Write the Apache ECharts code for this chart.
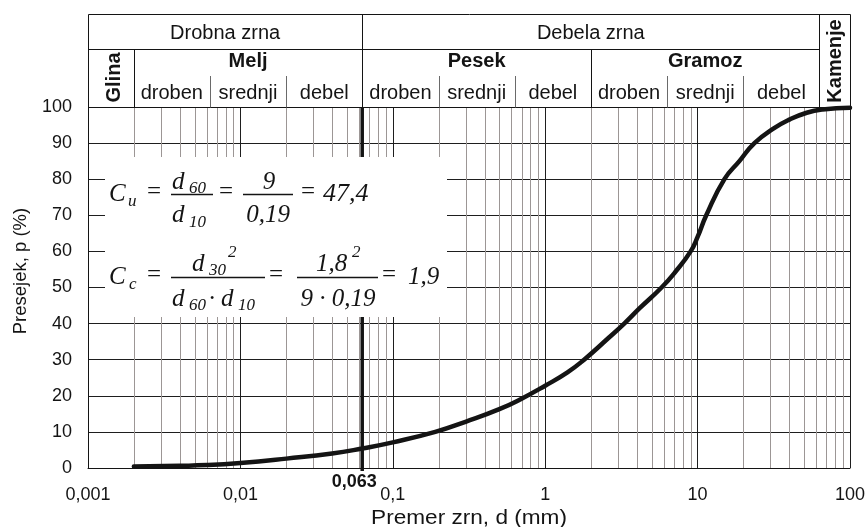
<!DOCTYPE html>
<html><head><meta charset="utf-8">
<script src="https://cdn.jsdelivr.net/npm/echarts@6/dist/echarts.min.js"></script>
<style>html,body{margin:0;padding:0;background:#fff}#c{width:868px;height:527px}</style>
</head><body><div id="c"></div>
<script>
// ---------- data ----------
const xTickLabels = ['0,001', '0,01', '0,1', '1', '10', '100'];
const yTickValues = [0, 10, 20, 30, 40, 50, 60, 70, 80, 90, 100];
const decadeStarts = [0.001, 0.01, 0.1, 1, 10];
const minorSteps = [2, 3, 4, 5, 6, 7, 8, 9];
const siltSandLimit = 0.063;

// grain size distribution curve (d in mm, passing %)
const grainSize = [0.002, 0.004, 0.006, 0.01, 0.02, 0.04, 0.063, 0.1, 0.19, 0.3, 0.5, 0.7, 1.0, 1.4, 1.8, 2.6, 3.3, 4.2, 5.8, 7.2, 9, 10, 11.4, 15, 18.8, 23.6, 31.4, 40, 52, 66, 100];
const passing   = [0.4, 0.6, 0.8, 1.4, 2.6, 4.0, 5.4, 7.1, 10, 12.8, 16.3, 19.2, 22.8, 26.5, 30, 36, 40, 44.4, 50, 54.5, 60, 64, 70, 80, 85, 90, 94, 96.5, 98.4, 99.3, 99.8];

// classification header
const mainGroups = [['Drobna zrna', 0.001, 0.063], ['Debela zrna', 0.063, 63]];
const soilClasses = [['Glina', 0.001, 0.002], ['Melj', 0.002, 0.063], ['Pesek', 0.063, 2], ['Gramoz', 2, 63], ['Kamenje', 63, 100]];
const subNames = ['droben', 'srednji', 'debel'];
const subBounds = [[0.002, 0.0063, 0.02, 0.063], [0.063, 0.2, 0.63, 2], [2, 6.3, 20, 63]];

const xName = 'Premer zrn, d (mm)';
const yName = 'Presejek, p (%)';

// ---------- chart ----------
const minorValues = [];
decadeStarts.forEach(d => minorSteps.forEach(s => minorValues.push(+(d * s).toPrecision(6))));
const curve = grainSize.map((d, i) => [d, passing[i]]);
const SANS = '"Liberation Sans", Arial, sans-serif';
const SERIF = '"Liberation Serif", "Times New Roman", serif';
const INK = '#141414';

function vLine(color, width, below) {
  return (params, api) => {
    const v = api.value(0);
    const p0 = api.coord([v, 0]), p1 = api.coord([v, 100]);
    const x = width % 2 === 1 ? Math.round(p0[0]) + 0.5 : p0[0];
    return {type: 'line', silent: true,
      shape: {x1: x, y1: p0[1] + below, x2: x, y2: p1[1]},
      style: {stroke: color, lineWidth: width}};
  };
}

const chart = echarts.init(document.getElementById('c'), null, {renderer: 'canvas'});
chart.setOption({
  animation: false,
  backgroundColor: '#fff',
  grid: {left: 88, right: 18, top: 107, bottom: 59, outerBoundsMode: 'none'},
  xAxis: {
    type: 'log', logBase: 10, min: 0.001, max: 100,
    axisLine: {show: true, lineStyle: {color: INK, width: 1}},
    axisTick: {show: false},
    axisLabel: {
      formatter: v => xTickLabels[Math.round(Math.log10(v)) + 3],
      fontFamily: SANS, fontSize: 18, color: INK, margin: 18
    },
    splitLine: {show: true, lineStyle: {color: '#1e1e1e', width: 1}}
  },
  yAxis: {
    type: 'value', min: 0, max: 100, interval: 10,
    axisLine: {show: true, lineStyle: {color: INK, width: 1}},
    axisTick: {show: false},
    axisLabel: {fontFamily: SANS, fontSize: 18, color: INK, margin: 16,
      formatter: v => String(v)},
    splitLine: {show: true, lineStyle: {color: '#1e1e1e', width: 1}}
  },
  series: [
    {
      type: 'custom', z: 1, silent: true, clip: false,
      renderItem: vLine('#9c9695', 1, 0),
      data: minorValues.map(v => [v, 0])
    },
    {
      type: 'custom', z: 1, silent: true, clip: false,
      renderItem: vLine(INK, 3.5, 3),
      data: [[siltSandLimit, 0]]
    },
    {
      type: 'line', data: curve, z: 5, silent: true,
      showSymbol: false, smooth: 0.5,
      lineStyle: {color: INK, width: 4.5, cap: 'round', join: 'round'}
    }
  ]
});

// ---------- header + annotations ----------
const px = v => chart.convertToPixel({xAxisIndex: 0}, v);
const py = v => chart.convertToPixel({yAxisIndex: 0}, v);
const g = [];
const crisp = v => Math.round(v) + 0.5;
function line(x1, y1, x2, y2, color, w, z) {
  g.push({type: 'line', z: z || 60, silent: true,
    shape: {x1, y1, x2, y2}, style: {stroke: color || INK, lineWidth: w || 1}});
}
function text(str, x, y, o) {
  o = o || {};
  g.push({type: 'text', z: 61, silent: true, x, y, rotation: o.rot || 0,
    scaleX: o.sx || 1, scaleY: o.sy || 1,
    style: {text: str, fill: INK, align: o.align || 'center', verticalAlign: 'middle',
      fontFamily: o.family || SANS, fontSize: o.size || 20,
      fontWeight: o.weight || 'normal', fontStyle: o.style || 'normal'}});
}

const hTop = 14.5, hRow1 = 49.5, hRow3 = 76, hBot = crisp(py(100));
const L = crisp(px(0.001)), R = crisp(px(100));
line(L, hTop, R, hTop);
line(L, hTop, L, hBot);
line(R, hTop, R, hBot);
line(L, hRow1, crisp(px(63)), hRow1);
line(L, hBot, R, hBot);
mainGroups.forEach(([name, a, b]) => {
  line(crisp(px(b)), hTop, crisp(px(b)), hBot);
  text(name, (px(a) + px(b)) / 2, 33, {size: 20});
});
soilClasses.forEach(([name, a, b], i) => {
  const xa = px(a), xb = px(b);
  line(crisp(xb), hRow1, crisp(xb), hBot);
  if (i === 0) text(name, (xa + xb) / 2 + 4, 77.5, {size: 20, weight: 'bold', rot: Math.PI / 2});
  else if (i === soilClasses.length - 1) text(name, (xa + xb) / 2 + 1, 61, {size: 20, weight: 'bold', rot: Math.PI / 2});
  else text(name, (xa + xb) / 2, 61, {size: 20, weight: 'bold'});
});
subBounds.forEach(bs => {
  for (let k = 0; k < 3; k++) {
    if (k > 0) line(crisp(px(bs[k])), hRow3, crisp(px(bs[k])), hBot, '#6a6a6a');
    text(subNames[k], (px(bs[k]) + px(bs[k + 1])) / 2, 93, {size: 20});
  }
});

text('0,063', px(siltSandLimit) - 8, 482, {size: 18, weight: 'bold'});
text(yName, 21, 271, {size: 18.5, rot: Math.PI / 2});
text(xName, (px(0.001) + px(100)) / 2, 518, {size: 20, sx: 1.13});

// formula box (white, hides the grid behind the formulas)
g.push({type: 'rect', z: 55, silent: true, shape: {x: 105, y: 157, width: 342, height: 160}, style: {fill: '#fff'}});
const it = (s, x, y, size, align) => text(s, x, y, {family: SERIF, style: 'italic', size: size || 25, align: align || 'left'});
const up = (s, x, y, size, align) => text(s, x, y, {family: SERIF, size: size || 25, align: align || 'left'});
const bar = (x1, x2, y) => line(x1, y, x2, y, INK, 1.3, 62);
// Cu
it('C', 109, 194); it('u', 128, 201.5, 17);
up('=', 147, 192);
bar(171, 213, 194.5);
it('d', 172, 182); it('60', 189, 188.5, 17);
it('d', 172, 215); it('10', 189, 222.5, 17);
up('=', 219, 192);
bar(243, 293, 194.5);
it('9', 269, 182, 25, 'center');
it('0,19', 268, 215, 25, 'center');
up('=', 301, 192);
it('47,4', 323, 194, 26);
// Cc
it('C', 109, 277); it('c', 129, 284.5, 17);
up('=', 147, 275);
bar(171, 265, 277.5);
it('d', 192, 264); it('30', 209, 270.5, 17); it('2', 228, 252.5, 17);
it('d', 172, 299); it('60', 189, 305.5, 17); up('·', 208, 299); it('d', 221, 299); it('10', 238, 305.5, 17);
up('=', 269, 275);
bar(297, 378, 277.5);
it('1,8', 316, 264); it('2', 352, 252.5, 17);
it('9 · 0,19', 338, 299, 25, 'center');
up('=', 382, 275);
it('1,9', 408, 277);

chart.setOption({graphic: g});
</script></body></html>
